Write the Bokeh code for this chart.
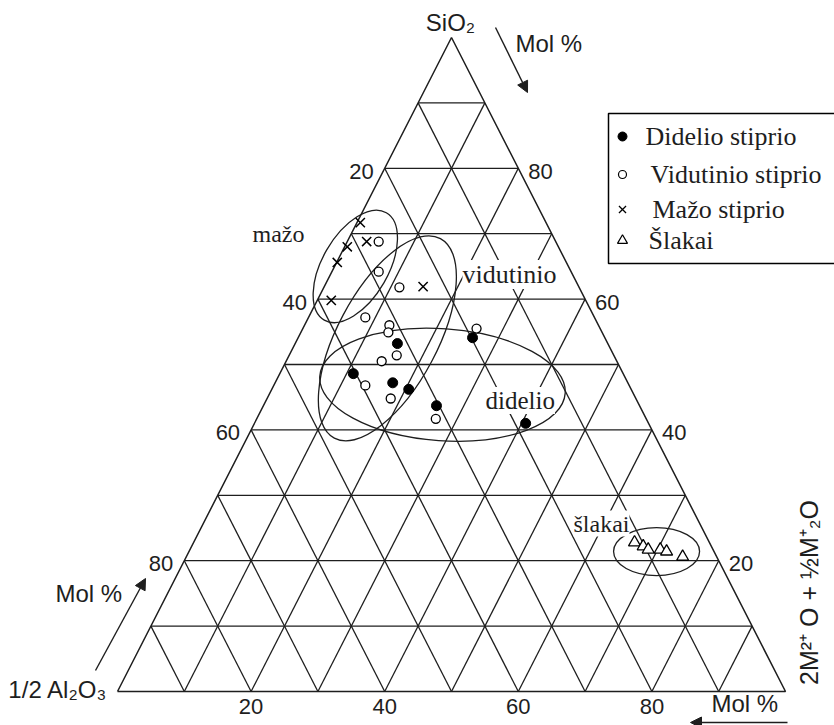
import math
from bokeh.plotting import figure
from bokeh.models import Range1d, Label, Arrow, NormalHead
from bokeh.embed import file_html
from bokeh.resources import INLINE

# ---- sample compositions, mol % ----
# every point is given by SiO2 (top apex) and 2M2+O + 1/2M+2O (right apex);
# 1/2 Al2O3 (left apex) is the remainder to 100 %
didelio_sio2 = [53.2, 54.1, 48.6, 47.2, 46.2, 43.7, 41.0]
didelio_m = [15.3, 26.1, 11.0, 17.6, 20.5, 25.9, 40.6]

vidutinio_sio2 = [68.8, 64.2, 61.8, 57.2, 56.0, 54.9, 55.5, 51.4, 50.5, 46.8, 44.8, 41.7]
vidutinio_m = [4.7, 7.0, 11.3, 8.5, 12.7, 13.1, 26.0, 16.1, 14.3, 13.7, 18.5, 26.8]

mazo_sio2 = [71.7, 68.8, 68.0, 65.6, 59.8, 61.9]
mazo_m = [0.5, 2.9, 0.4, 0.1, 2.1, 14.8]

slakai_sio2 = [22.8, 22.2, 21.7, 21.7, 21.4, 20.6]
slakai_m = [66.0, 67.6, 68.6, 70.4, 71.5, 74.3]

# group outlines: centre composition (SiO2, M)
group_names = ["mažo", "vidutinio", "didelio", "šlakai"]
group_sio2 = [65.0, 54.0, 46.9, 21.4]
group_m = [3.1, 13.4, 25.2, 70.0]

tick_values = [20, 40, 60, 80]
legend_labels = ["Didelio stiprio", "Vidutinio stiprio", "Mažo stiprio", "Šlakai"]

# ---- page geometry ----
PAGE_W, PAGE_H = 834, 725
X0, Y0 = 117, 691      # pixel position of the 1/2 Al2O3 corner
SX, SY = 6.68, 6.54    # pixels per mol % (across, up)
INK = "#1e1e1e"


def tern(sio2, m):
    """ternary composition -> plot coordinates"""
    if isinstance(sio2, (list, tuple)):
        return [mm + s / 2 for s, mm in zip(sio2, m)], list(sio2)
    return m + sio2 / 2, sio2


def px(xp, yp):
    """page pixel -> plot coordinates"""
    return (xp - X0) / SX, (Y0 - yp) / SY


p = figure(
    width=PAGE_W, height=PAGE_H,
    x_range=Range1d(-X0 / SX, (PAGE_W - X0) / SX),
    y_range=Range1d(-(PAGE_H - Y0) / SY, Y0 / SY),
    x_axis_type=None, y_axis_type=None,
    output_backend="svg", toolbar_location=None,
    min_border=0, outline_line_color=None,
)
p.grid.visible = False
p.background_fill_color = "white"
p.border_fill_color = "white"

# ---- 10 % grid ----
gx, gy = [], []
for k in range(10, 100, 10):
    for a, b in (
        (tern(k, 0), tern(k, 100 - k)),          # constant SiO2
        (tern(0, k), tern(100 - k, k)),          # constant M
        (tern(0, 100 - k), tern(100 - k, 0)),    # constant Al2O3
    ):
        gx.append([a[0], b[0]])
        gy.append([a[1], b[1]])
p.multi_line(gx, gy, line_color=INK, line_width=1.3)

cx, cy = zip(tern(0, 0), tern(0, 100), tern(100, 0), tern(0, 0))
p.line(list(cx), list(cy), line_color=INK, line_width=1.5)

# ---- group outlines ----
ex, ey = tern(group_sio2, group_m)
p.ellipse(ex, ey,
          width=[124, 226, 246, 86], height=[66, 100, 112, 48],
          angle=[math.radians(a) for a in (60, 62, -4, 0)],
          width_units="screen", height_units="screen",
          fill_color=None, line_color=INK, line_width=1.3)

# ---- samples ----
x, y = tern(vidutinio_sio2, vidutinio_m)
p.scatter(x, y, marker="circle", size=9, fill_color="white", line_color="black", line_width=1.3)
x, y = tern(didelio_sio2, didelio_m)
p.scatter(x, y, marker="circle", size=10, fill_color="black", line_color="black")
x, y = tern(mazo_sio2, mazo_m)
p.scatter(x, y, marker="x", size=13, line_color="black", line_width=1.5)
x, y = tern(slakai_sio2, slakai_m)
p.scatter(x, y, marker="triangle", size=12, fill_color="white", line_color="black", line_width=1.3)


def label(x, y, text, size=22, font="Liberation Sans", align="left",
          baseline="middle", angle=0.0, bg=None):
    lab = Label(x=x, y=y, text=text, text_font=font, text_font_size=f"{size}px",
                text_color=INK, text_align=align, text_baseline=baseline, angle=angle)
    if bg:
        lab.background_fill_color = bg
    p.add_layout(lab)


# ---- edge scales ----
for v in tick_values:
    bx, by = tern(0, v)
    label(bx, by - 15 / SY, str(v), align="center")
    lx, ly = tern(100 - v, 0)                       # left edge: 1/2 Al2O3
    label(lx - 11 / SX, ly - 3 / SY, str(v), align="right")
    rx, ry = tern(v, 100 - v)                       # right edge: SiO2
    label(rx + 10 / SX, ry - 3 / SY, str(v), align="left")

# ---- apex names and directions ----
label(*px(450, 22), "SiO₂", size=24, align="center")
label(*px(515, 43), "Mol %", size=24)
label(*px(55, 593), "Mol %", size=24)
label(*px(711, 703), "Mol %", size=24)
label(*px(107, 689), "1/2 Al₂O₃", size=24, align="right")
label(*px(808, 592), "2M²⁺ O + ½M⁺₂O", size=25, align="center", angle=math.pi / 2)

for (x1, y1), (x2, y2) in (((495, 27), (527, 92)),
                           ((95, 670), (145, 578)),
                           ((787, 722), (690, 722))):
    sx, sy = px(x1, y1)
    ex2, ey2 = px(x2, y2)
    p.add_layout(Arrow(x_start=sx, y_start=sy, x_end=ex2, y_end=ey2,
                       line_color=INK, line_width=1.4,
                       end=NormalHead(size=11, fill_color=INK, line_color=INK)))

# ---- group names ----
label(*px(252, 233), group_names[0], size=24, font="Liberation Serif", baseline="alphabetic")
label(*px(462, 274), group_names[1], size=26, font="Liberation Serif", baseline="alphabetic", bg="white")
label(*px(485, 400), group_names[2], size=25, font="Liberation Serif", baseline="alphabetic", bg="white")
label(*px(629, 523), group_names[3], size=24, font="Liberation Serif", baseline="alphabetic",
      align="right", bg="white")

# ---- key ----
kx0, ky0 = px(608, 113)
kx1, ky1 = px(836, 263)
p.quad(left=kx0, right=kx1, top=ky0, bottom=ky1,
       fill_color="white", line_color="black", line_width=1.5)
rows_y = [136, 174, 209, 240]
text_x = [645, 650, 652, 648]
key_styles = [
    dict(marker="circle", size=9, fill_color="black", line_color="black"),
    dict(marker="circle", size=8, fill_color="white", line_color="black", line_width=1.2),
    dict(marker="x", size=10, line_color="black", line_width=1.3),
    dict(marker="triangle", size=10, fill_color="white", line_color="black", line_width=1.2),
]
for ry, tx, text, style in zip(rows_y, text_x, legend_labels, key_styles):
    mx, my = px(622, ry)
    p.scatter([mx], [my], **style)
    label(*px(tx, ry), text, size=26, font="Liberation Serif")

open("out.html", "w").write(file_html(p, INLINE))
